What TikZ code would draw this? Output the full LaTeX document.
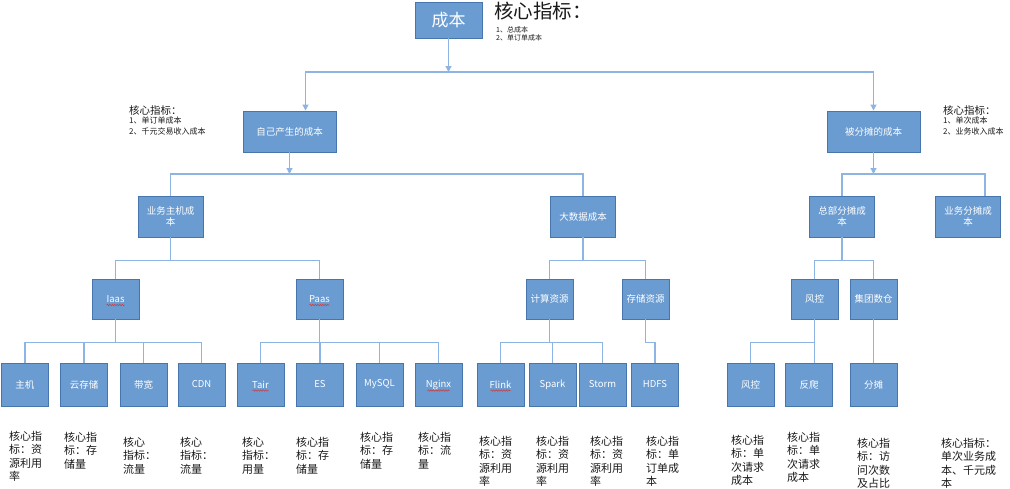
\documentclass[tikz,border=0pt]{standalone}
\usepackage{fontspec}
\setmainfont{Noto Sans CJK SC}
\usetikzlibrary{arrows.meta, decorations.pathmorphing}
\definecolor{boxblue}{HTML}{6A9BD1}
\definecolor{boxedge}{HTML}{4676AD}
\definecolor{linkblue}{HTML}{8DB4E2}
\definecolor{noteink}{HTML}{1A1A1A}
\definecolor{squigred}{HTML}{D03A3A}
\tikzset{
  link/.style={line width=1.1pt, linkblue},
  alink/.style={link, -{Triangle[length=6pt, width=6pt]}},
  costbox/.style={rectangle, draw=boxedge, fill=boxblue, line width=0.9pt, text=white, align=center, inner sep=1pt},
  note/.style={anchor=north west, align=left, text=noteink, inner sep=0pt},
  squig/.style={squigred, line width=0.5pt, decorate, decoration={snake, amplitude=0.7pt, segment length=2.5pt}},
}

\begin{document}
\begin{tikzpicture}[x=1pt, y=-1pt,
    lvla/.style={costbox, minimum width=93pt, minimum height=41pt, font=\fontsize{9.5}{11.5}\selectfont},
    lvlb/.style={costbox, minimum width=65pt, minimum height=41pt, font=\fontsize{9.5}{11.5}\selectfont},
    lvlc/.style={costbox, minimum width=47pt, minimum height=40pt, font=\fontsize{9.5}{11.5}\selectfont},
    lvld/.style={costbox, minimum width=47pt, minimum height=43pt, font=\fontsize{9.5}{11.5}\selectfont},
    keynote/.style={note, font=\fontsize{11}{13.5}\selectfont}]
  \useasboundingbox (0,0) rectangle (1010,488);

  % Root and its key figures
  \node[costbox, minimum width=67pt, minimum height=36pt, font=\fontsize{17}{20}\selectfont] (root) at (448.5,20) {成本};
  \node[note, font=\fontsize{19.5}{21}\selectfont] (rootkey) at (494,2) {核心指标：};
  \node[note, font=\fontsize{7}{8.5}\selectfont] (rootlist) at (496,26) {1、总成本\\2、单订单成本};

  % First level
  \node[lvla] (self) at (289.5,131.5) {自己产生的成本};
  \node[lvla] (shared) at (873.5,131.5) {被分摊的成本};
  \node[note, font=\fontsize{10.5}{11}\selectfont] (selfkey) at (129,105) {核心指标：};
  \node[note, font=\fontsize{8}{10.5}\selectfont] (selflist) at (129,117) {1、单订单成本\\2、千元交易收入成本};
  \node[note, font=\fontsize{10.5}{11}\selectfont] (sharedkey) at (943,105) {核心指标：};
  \node[note, font=\fontsize{8}{10.5}\selectfont] (sharedlist) at (943,117) {1、单次成本\\2、业务收入成本};

  % Second level
  \node[lvlb] (host) at (170.5,216.5) {业务主机成\\本};
  \node[lvlb] (bigdata) at (583,216.5) {大数据成本};
  \node[lvlb] (hq) at (842,216.5) {总部分摊成\\本};
  \node[lvlb] (bizshare) at (968,216.5) {业务分摊成\\本};

  % Third level
  \node[lvlc] (iaas) at (115.5,299) {Iaas};
  \node[lvlc] (paas) at (319.5,299) {Paas};
  \node[lvlc] (compute) at (549.5,299) {计算资源};
  \node[lvlc] (storage) at (645.5,299) {存储资源};
  \node[lvlc] (risk) at (814.5,299) {风控};
  \node[lvlc] (dw) at (873.5,299) {集团数仓};

  % Leaves
  \foreach \nd/\x/\txt in {zhuji/25/主机, yuncun/84/云存储, daikuan/143.5/带宽, cdn/201.5/CDN,
      tair/260.5/Tair, es/320/ES, mysql/379.5/MySQL, nginx/438.5/Nginx,
      flink/500.5/Flink, spark/552.5/Spark, storm/602.5/Storm, hdfs/655/HDFS,
      riskb/750.5/风控, antibot/809/反爬, alloc/873.5/分摊} {
    \node[lvld] (\nd) at (\x,384.5) {\txt};
  }

  % spell-check marks
  \draw[squig] ([xshift=-9,yshift=-6]iaas.center) -- ([xshift=9,yshift=-6]iaas.center);
  \draw[squig] ([xshift=-10,yshift=-6]paas.center) -- ([xshift=10,yshift=-6]paas.center);
  \draw[squig] ([xshift=-8,yshift=-6]tair.center) -- ([xshift=8,yshift=-6]tair.center);
  \draw[squig] ([xshift=-11,yshift=-6]nginx.center) -- ([xshift=11,yshift=-6]nginx.center);
  \draw[squig] ([xshift=-10,yshift=-6]flink.center) -- ([xshift=10,yshift=-6]flink.center);

  % Connectors, top two levels
  \coordinate (busa) at (448.5,72);
  \draw[alink] (root.south) -- (busa);
  \draw[alink] (busa) -| ([xshift=16]self.north);
  \draw[alink] (busa) -| (shared.north);
  \coordinate (busb) at (289.5,174);
  \draw[alink] (self.south) -- (busb);
  \draw[link] (host.north) |- (busb) -| (bigdata.north);
  \coordinate (busc) at (873.5,174);
  \draw[alink] (shared.south) -- (busc);
  \draw[link] (hq.north) |- (busc) -| ([xshift=17]bizshare.north);

  % Connectors, lower levels
  \draw[link] (host.south) -- ++(0,23) coordinate (hostbus);
  \draw[link] (iaas.north) |- (hostbus) -| (paas.north);
  \draw[link] (bigdata.south) -- ++(0,23) coordinate (databus);
  \draw[link] (compute.north) |- (databus) -| (storage.north);
  \draw[link] (hq.south) -- ++(0,23) coordinate (hqbus);
  \draw[link] (risk.north) |- (hqbus) -| (dw.north);

  \draw[link] (iaas.south) -- ++(0,23) coordinate (iaasbus);
  \draw[link] (zhuji.north) |- (iaasbus) -| (cdn.north);
  \draw[link] (yuncun.north) -- (yuncun.north |- iaasbus);
  \draw[link] (daikuan.north) -- (daikuan.north |- iaasbus);
  \draw[link] (paas.south) -- ++(0,23) coordinate (paasbus);
  \draw[link] (tair.north) |- (paasbus) -| (nginx.north);
  \draw[link] (es.north) -- (es.north |- paasbus);
  \draw[link] (mysql.north) -- (mysql.north |- paasbus);
  \draw[link] (compute.south) -- ++(0,23) coordinate (compbus);
  \draw[link] (flink.north) |- (compbus) -| (storm.north);
  \draw[link] (spark.north) -- (spark.north |- compbus);
  \draw[link] (storage.south) -- ++(0,23) -| (hdfs.north);
  \draw[link] (risk.south) -- ++(0,23) coordinate (riskbus);
  \draw[link] (riskb.north) |- (riskbus) -| ([xshift=5.5]antibot.north);
  \draw[link] (dw.south) -- (alloc.north);

  % Key figures under the leaves
  \node[keynote] (zhujikey) at (9,431) {核心指\\标：资\\源利用\\率};
  \node[keynote] (yuncunkey) at (64,432) {核心指\\标：存\\储量};
  \node[keynote] (daikuankey) at (123,437) {核心\\指标：\\流量};
  \node[keynote] (cdnkey) at (180,437) {核心\\指标：\\流量};
  \node[keynote] (tairkey) at (242,437) {核心\\指标：\\用量};
  \node[keynote] (eskey) at (296,437) {核心指\\标：存\\储量};
  \node[keynote] (mysqlkey) at (360,432) {核心指\\标：存\\储量};
  \node[keynote] (nginxkey) at (418,432) {核心指\\标：流\\量};
  \node[keynote] (flinkkey) at (479,436) {核心指\\标：资\\源利用\\率};
  \node[keynote] (sparkkey) at (536,436) {核心指\\标：资\\源利用\\率};
  \node[keynote] (stormkey) at (590,436) {核心指\\标：资\\源利用\\率};
  \node[keynote] (hdfskey) at (646,436) {核心指\\标：单\\订单成\\本};
  \node[keynote] (riskbkey) at (731,435) {核心指\\标：单\\次请求\\成本};
  \node[keynote] (antibotkey) at (787,432) {核心指\\标：单\\次请求\\成本};
  \node[keynote] (allockey) at (857,438) {核心指\\标：访\\问次数\\及占比};
  \node[keynote] (bizkey) at (941,438) {核心指标：\\单次业务成\\本、千元成\\本};
\end{tikzpicture}
\end{document}
